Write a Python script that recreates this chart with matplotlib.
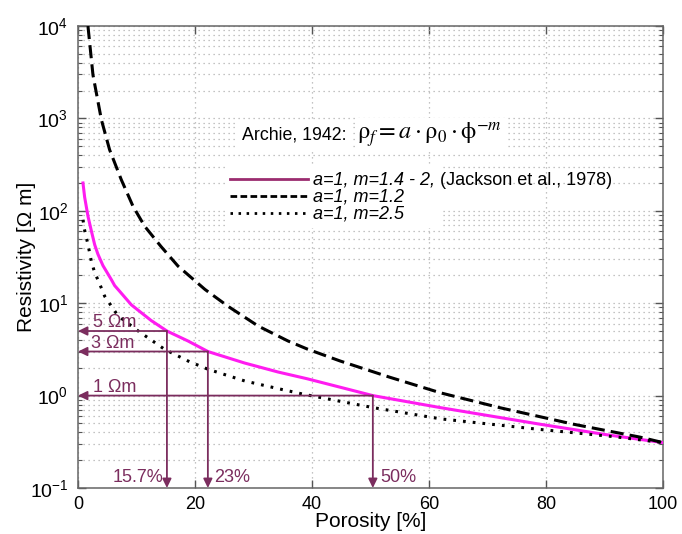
import matplotlib
matplotlib.use('Agg')
import matplotlib.pyplot as plt
from matplotlib.lines import Line2D
from matplotlib.ticker import LogLocator, NullFormatter

plt.rcParams['font.family'] = ['Liberation Sans', 'DejaVu Sans']
plt.rcParams['mathtext.fontset'] = 'custom'
plt.rcParams['mathtext.rm'] = 'Liberation Sans'
plt.rcParams['mathtext.it'] = 'Liberation Sans:italic'
plt.rcParams['mathtext.bf'] = 'Liberation Sans:bold'

# ---------------- data ----------------
por_jackson = [0.85, 1.14, 1.71, 2.3, 2.85, 3.4, 4.27, 5.7, 6.27, 7.1, 9.12, 12.5,
               15.2, 18.8, 22.2, 28.5, 34.2, 39.2, 50.4, 62, 79, 90, 100]
res_jackson = [200, 140, 87, 60, 43, 34, 25.5, 18, 15.5, 13.5, 9.6, 6.5,
               5.0, 3.9, 3.0, 2.25, 1.8, 1.52, 1.0, 0.74, 0.49, 0.38, 0.31]

por_dashed = [1.7, 2.56, 4.0, 5.4, 7.4, 9.4, 11.4, 14.2, 17.1, 21.7, 25.6, 30.8,
              35.9, 39.3, 44.8, 53.3, 62, 72.1, 84.7, 96.1, 100]
res_dashed = [10000, 2950, 966, 458, 217, 112, 68, 41, 25.2, 14.1, 9.3, 5.66,
              3.9, 3.17, 2.37, 1.58, 1.07, 0.74, 0.49, 0.355, 0.31]

por_dotted = [0.85, 1.1, 1.71, 2.3, 2.85, 3.7, 4.56, 6.84, 10.3, 14.8, 18.8, 22.2,
              28.5, 34.2, 38.7, 50.5, 62, 79, 91.5, 100]
res_dotted = [80, 63, 43, 28, 21.5, 16.2, 11.9, 7.3, 5.0, 3.17, 2.37, 1.93,
              1.44, 1.19, 1.03, 0.74, 0.56, 0.43, 0.36, 0.31]

legend_labels = ['a=1, m=1.4 - 2,', 'a=1, m=1.2', 'a=1, m=2.5']
legend_extra = '(Jackson et al., 1978)'

cut_res = [5, 3, 1]                 # resistivity levels (Ohm m)
cut_por = [15.2, 22.2, 50.4]        # porosity where the arrows drop
cut_res_labels = ['5 \u03a9m', '3 \u03a9m', '1 \u03a9m']
cut_por_labels = ['15.7%', '23%', '50%']

xticks = [0, 20, 40, 60, 80, 100]

# ---------------- figure ----------------
W, H = 682, 534
fig = plt.figure(figsize=(W / 100, H / 100), dpi=100)
L, R, T, B = 78, 663, 26, 488
ax = fig.add_axes([L / W, 1 - B / H, (R - L) / W, (B - T) / H])

MAG = '#ff1cf0'
ANN = '#7b2d5e'
GRID = '#b0b0b0'
FS = 13

ax.set_yscale('log')
ax.set_xlim(0, 100)
ax.set_ylim(0.1, 1e4)

ax.plot(por_jackson, res_jackson, color=MAG, lw=2.2, zorder=3)
ax.plot(por_dashed, res_dashed, color='black', lw=2.2, dashes=(4.3, 2.0), zorder=3)
ax.plot(por_dotted, res_dotted, color='black', lw=2.2, dashes=(0.9, 2.3), zorder=3)

# grid
ax.set_axisbelow(True)
ax.grid(True, which='major', axis='both', color=GRID, ls=(0, (1, 3)), lw=0.9)
ax.grid(True, which='minor', axis='y', color=GRID, ls=(0, (1, 3)), lw=0.9)

# ticks
ax.set_xticks(xticks)
ax.yaxis.set_major_locator(LogLocator(base=10, numticks=10))
ax.yaxis.set_minor_locator(LogLocator(base=10, subs=range(2, 10), numticks=50))
ax.yaxis.set_minor_formatter(NullFormatter())
ax.tick_params(which='both', direction='in', top=True, right=True, color='#555555')
ax.tick_params(axis='x', labelsize=13, pad=6)
ax.tick_params(axis='y', labelsize=14, pad=7)
ax.tick_params(which='major', length=6, width=1)
ax.tick_params(which='minor', length=3, width=0.8)
for s in ax.spines.values():
    s.set_color('#666666')
    s.set_linewidth(1.1)

ax.set_xlabel('Porosity [%]', fontsize=15)
ax.set_ylabel('Resistivity [\u03a9 m]', fontsize=15)
ax.xaxis.set_label_coords(0.5, -0.052)
ax.yaxis.set_label_coords(-0.072, 0.5)

# annotation arrows
arrow = dict(arrowstyle='-|>,head_length=0.45,head_width=0.22', color=ANN,
             lw=1.3, mutation_scale=12, shrinkA=0, shrinkB=0)
for r, p in zip(cut_res, cut_por):
    ax.annotate('', xy=(0, r), xytext=(p, r), arrowprops=arrow, zorder=4)
    ax.annotate('', xy=(p, 0.1), xytext=(p, r), arrowprops=arrow, zorder=4)
for r, lab, xo in zip(cut_res, cut_res_labels, [2.6, 2.2, 2.6]):
    ax.text(xo, r, lab, color=ANN, fontsize=FS, ha='left', va='bottom', zorder=4)
ax.text(cut_por[0] - 0.6, 0.104, cut_por_labels[0], color=ANN, fontsize=FS,
        ha='right', va='bottom', zorder=4)
ax.text(cut_por[1] + 1.0, 0.104, cut_por_labels[1], color=ANN, fontsize=FS,
        ha='left', va='bottom', zorder=4)
ax.text(cut_por[2] + 1.2, 0.104, cut_por_labels[2], color=ANN, fontsize=FS,
        ha='left', va='bottom', zorder=4)

# Archie text + formula
archie = ax.text(28.0, 665, 'Archie, 1942:', fontsize=12.8, ha='left', va='center',
                 bbox=dict(fc='white', ec='none', pad=4), zorder=5)
ax.annotate(r'$\mathrm{\rho}_f = a \cdot \mathrm{\rho}_0 \cdot \mathrm{\phi}^{-m}$',
            xy=(1, 0.5), xycoords=archie, xytext=(8, 0), textcoords='offset points',
            ha='left', va='center', fontsize=17.5, math_fontfamily='stix',
            bbox=dict(fc='white', ec='none', pad=2), zorder=5)

# legend
handles = [Line2D([], [], color='#9b2c6f', lw=2.0),
           Line2D([], [], color='black', lw=2.0, dashes=(2.4, 1.2)),
           Line2D([], [], color='black', lw=2.0, dashes=(0.9, 2.0))]
leg = ax.legend(handles, legend_labels, loc='upper left',
                bbox_to_anchor=((225 - L) / (R - L), 1 - (166.5 - T) / (B - T)),
                borderaxespad=0, borderpad=0.3, handlelength=4.3, handletextpad=0.3,
                labelspacing=0.0, frameon=True, fancybox=False, framealpha=1,
                prop={'style': 'italic', 'size': FS})
leg.get_frame().set_facecolor('white')
leg.get_frame().set_edgecolor('none')
leg.set_zorder(5)
fig.canvas.draw()
ax.annotate(legend_extra, xy=(1, 0), xycoords=leg.get_texts()[0],
            xytext=(3.5, 0), textcoords='offset points', ha='left', va='bottom',
            fontsize=FS, zorder=6)

fig.savefig('out.png', dpi=100)
